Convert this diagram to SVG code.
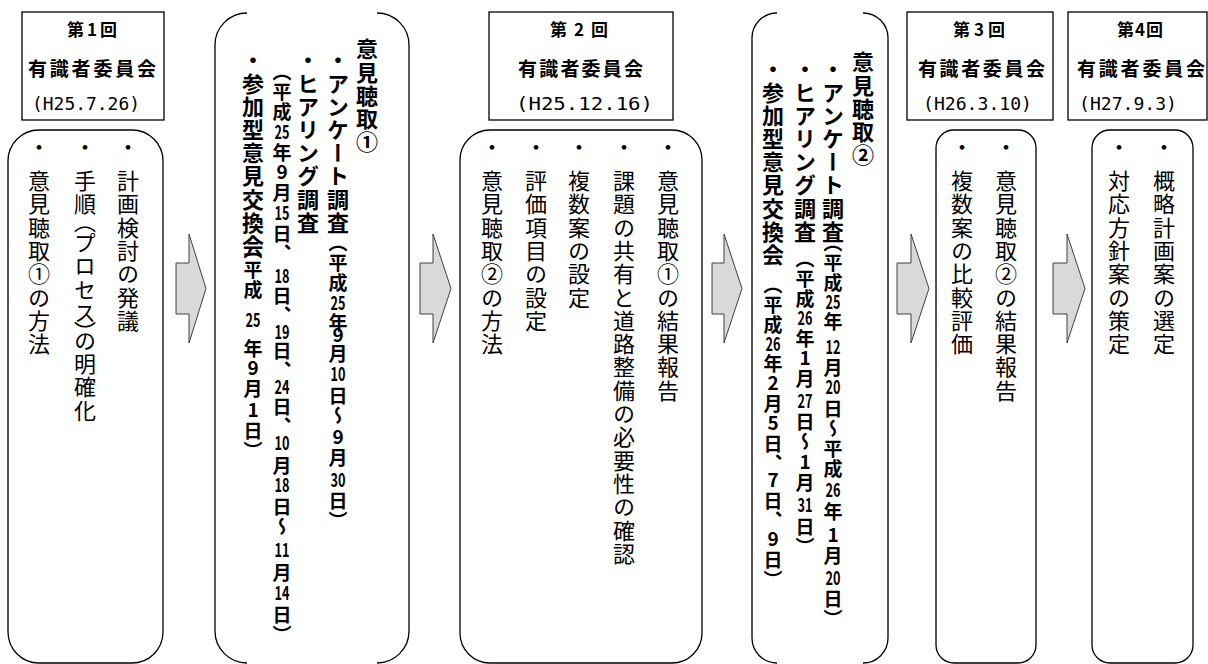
<svg xmlns="http://www.w3.org/2000/svg" width="1208" height="664" viewBox="0 0 1208 664">
<style>
.hb{fill:#fff;stroke:#000;stroke-width:1.3}
.rb{fill:#fff;stroke:#000;stroke-width:1.3}
.br{fill:none;stroke:#000;stroke-width:1.3}
.ar{fill:#d9d9d9;stroke:#404040;stroke-width:1}
.h1{font-family:"Noto Sans CJK JP",sans-serif;font-weight:700;font-size:17px}
.h2{font-family:"Noto Sans CJK JP",sans-serif;font-weight:700;font-size:19px}
.hd{font-family:"DejaVu Sans Mono",monospace;font-size:18px}
.r{font-family:"Noto Sans CJK JP",sans-serif;font-size:22px;writing-mode:vertical-rl;letter-spacing:1.3px}
.b{font-family:"Noto Sans CJK JP",sans-serif;font-weight:700;font-size:22px;writing-mode:vertical-rl;letter-spacing:1.2px}
.s{font-family:"Noto Sans CJK JP",sans-serif;font-weight:700;font-size:19px;writing-mode:vertical-rl;letter-spacing:1px}
.n{font-family:"Noto Sans CJK JP",sans-serif;font-weight:700;font-size:19px;text-anchor:middle}
</style>
<rect width="1208" height="664" fill="#fff"/>

<g id="connectors">
<polygon class="ar" points="176,263 189,263 189,234 206,288.5 189,343 189,314 176,314"/>
<polygon class="ar" points="420,263 433,263 433,234 451,288.5 433,343 433,314 420,314"/>
<polygon class="ar" points="712,263 724,263 724,234 742,288.5 724,343 724,314 712,314"/>
<polygon class="ar" points="897,263 911,263 911,234 929,288.5 911,343 911,314 897,314"/>
<polygon class="ar" points="1053,263 1067,263 1067,234 1085,288.5 1067,343 1067,314 1053,314"/>
</g>

<g id="meeting1">
<rect class="hb" x="22" y="12" width="142" height="108"/>
<text class="h1" x="67" y="36" textLength="50" lengthAdjust="spacing">第1回</text>
<text class="h2" x="28" y="76" textLength="128" lengthAdjust="spacing">有識者委員会</text>
<text class="hd" x="32" y="110" textLength="108" lengthAdjust="spacingAndGlyphs">(H25.7.26)</text>
</g>
<g id="topics1">
<rect class="rb" x="8" y="130" width="155" height="533" rx="31" ry="31"/>
<text class="r"><tspan x="128" y="136">・</tspan><tspan x="128" y="170">計画検討の発議</tspan></text>
<text class="r"><tspan x="85" y="136">・</tspan><tspan x="85" y="170">手順</tspan><tspan x="85" y="211">（</tspan><tspan x="85" y="232">プロセス</tspan><tspan x="85" y="321">）</tspan><tspan x="85" y="329">の明確化</tspan></text>
<text class="r"><tspan x="39" y="136">・</tspan><tspan x="39" y="170">意見聴取①の方法</tspan></text>
</g>

<g id="hearing1">
<path class="br" d="M247,13 A32,32 0 0 0 215,45 L215,631 A32,32 0 0 0 247,663"/>
<path class="br" d="M377,13 A32,32 0 0 1 409,45 L409,631 A32,32 0 0 1 377,663"/>
<text class="b" x="367" y="38">意見聴取①</text>
<text class="b" x="338" y="49">・アンケート調査</text>
<text class="s"><tspan x="338" y="233">（平成</tspan><tspan x="338" y="313">年</tspan><tspan x="338" y="344">月</tspan><tspan x="338" y="386">日～</tspan><tspan x="338" y="448">月</tspan><tspan x="338" y="491">日）</tspan></text>
<text class="n" x="338" y="310" textLength="15" lengthAdjust="spacingAndGlyphs">25</text>
<text class="n" x="338" y="342">9</text>
<text class="n" x="338" y="381" textLength="15" lengthAdjust="spacingAndGlyphs">10</text>
<text class="n" x="338" y="444">9</text>
<text class="n" x="338" y="487" textLength="15" lengthAdjust="spacingAndGlyphs">30</text>
<text class="b" x="308" y="49">・ヒアリング調査</text>
<text class="s"><tspan x="282" y="62">（平成</tspan><tspan x="282" y="143">年</tspan><tspan x="282" y="183">月</tspan><tspan x="282" y="224">日、</tspan><tspan x="282" y="286">日、</tspan><tspan x="282" y="341">日、</tspan><tspan x="282" y="397">日、</tspan><tspan x="282" y="456">月</tspan><tspan x="282" y="497">日～</tspan><tspan x="282" y="563">月</tspan><tspan x="282" y="605">日）</tspan></text>
<text class="n" x="282" y="139" textLength="15" lengthAdjust="spacingAndGlyphs">25</text>
<text class="n" x="282" y="179">9</text>
<text class="n" x="282" y="220" textLength="15" lengthAdjust="spacingAndGlyphs">15</text>
<text class="n" x="282" y="283" textLength="15" lengthAdjust="spacingAndGlyphs">18</text>
<text class="n" x="282" y="339" textLength="15" lengthAdjust="spacingAndGlyphs">19</text>
<text class="n" x="282" y="394" textLength="15" lengthAdjust="spacingAndGlyphs">24</text>
<text class="n" x="282" y="450" textLength="15" lengthAdjust="spacingAndGlyphs">10</text>
<text class="n" x="282" y="492" textLength="15" lengthAdjust="spacingAndGlyphs">18</text>
<text class="n" x="282" y="557" textLength="15" lengthAdjust="spacingAndGlyphs">11</text>
<text class="n" x="282" y="600" textLength="15" lengthAdjust="spacingAndGlyphs">14</text>
<text class="b" x="253" y="49">・参加型意見交換会</text>
<text class="s"><tspan x="253" y="240">（平成</tspan><tspan x="253" y="339">年</tspan><tspan x="253" y="379">月</tspan><tspan x="253" y="421">日）</tspan></text>
<text class="n" x="253" y="327" textLength="15" lengthAdjust="spacingAndGlyphs">25</text>
<text class="n" x="253" y="375">9</text>
<text class="n" x="253" y="417">1</text>
</g>

<g id="meeting2">
<rect class="hb" x="489" y="12" width="184" height="108"/>
<text class="h1" x="550" y="36" textLength="58" lengthAdjust="spacing">第2回</text>
<text class="h2" x="518" y="76" textLength="125" lengthAdjust="spacing">有識者委員会</text>
<text class="hd" x="516" y="110" textLength="137" lengthAdjust="spacingAndGlyphs">(H25.12.16)</text>
</g>
<g id="topics2">
<rect class="rb" x="460" y="130" width="242" height="533" rx="30" ry="30"/>
<text class="r"><tspan x="668" y="136">・</tspan><tspan x="668" y="170">意見聴取①の結果報告</tspan></text>
<text class="r"><tspan x="624" y="136">・</tspan><tspan x="624" y="170">課題の共有と道路整備の必要性の確認</tspan></text>
<text class="r"><tspan x="579" y="136">・</tspan><tspan x="579" y="170">複数案の設定</tspan></text>
<text class="r"><tspan x="536" y="136">・</tspan><tspan x="536" y="170">評価項目の設定</tspan></text>
<text class="r"><tspan x="492" y="136">・</tspan><tspan x="492" y="170">意見聴取②の方法</tspan></text>
</g>

<g id="hearing2">
<path class="br" d="M777,13 A25,25 0 0 0 752,38 L752,638 A25,25 0 0 0 777,663"/>
<path class="br" d="M863,13 A25,25 0 0 1 888,38 L888,638 A25,25 0 0 1 863,663"/>
<text class="b" x="863" y="51">意見聴取②</text>
<text class="b" x="833" y="58">・アンケート調査</text>
<text class="s"><tspan x="833" y="233">（平成</tspan><tspan x="833" y="312">年</tspan><tspan x="833" y="358">月</tspan><tspan x="833" y="399">日～平成</tspan><tspan x="833" y="502">年</tspan><tspan x="833" y="546">月</tspan><tspan x="833" y="589">日）</tspan></text>
<text class="n" x="833" y="309" textLength="15" lengthAdjust="spacingAndGlyphs">25</text>
<text class="n" x="833" y="354" textLength="15" lengthAdjust="spacingAndGlyphs">12</text>
<text class="n" x="833" y="394" textLength="15" lengthAdjust="spacingAndGlyphs">20</text>
<text class="n" x="833" y="497" textLength="15" lengthAdjust="spacingAndGlyphs">26</text>
<text class="n" x="833" y="542">1</text>
<text class="n" x="833" y="585" textLength="15" lengthAdjust="spacingAndGlyphs">20</text>
<text class="b" x="805" y="58">・ヒアリング調査</text>
<text class="s"><tspan x="805" y="249">（平成</tspan><tspan x="805" y="329">年</tspan><tspan x="805" y="369">月</tspan><tspan x="805" y="412">日～</tspan><tspan x="805" y="473">月</tspan><tspan x="805" y="517">日）</tspan></text>
<text class="n" x="805" y="325" textLength="15" lengthAdjust="spacingAndGlyphs">26</text>
<text class="n" x="805" y="365">1</text>
<text class="n" x="805" y="408" textLength="15" lengthAdjust="spacingAndGlyphs">27</text>
<text class="n" x="805" y="469">1</text>
<text class="n" x="805" y="512" textLength="15" lengthAdjust="spacingAndGlyphs">31</text>
<text class="b" x="773" y="58">・参加型意見交換会</text>
<text class="s"><tspan x="773" y="275">（平成</tspan><tspan x="773" y="354">年</tspan><tspan x="773" y="394">月</tspan><tspan x="773" y="434">日、</tspan><tspan x="773" y="491">日、</tspan><tspan x="773" y="550">日）</tspan></text>
<text class="n" x="773" y="351" textLength="15" lengthAdjust="spacingAndGlyphs">26</text>
<text class="n" x="773" y="390">2</text>
<text class="n" x="773" y="430">5</text>
<text class="n" x="773" y="487">7</text>
<text class="n" x="773" y="546">9</text>
</g>

<g id="meeting3">
<rect class="hb" x="907" y="12" width="146" height="108"/>
<text class="h1" x="953" y="36" textLength="52" lengthAdjust="spacing">第3回</text>
<text class="h2" x="918" y="76" textLength="127" lengthAdjust="spacing">有識者委員会</text>
<text class="hd" x="923" y="110" textLength="109" lengthAdjust="spacingAndGlyphs">(H26.3.10)</text>
</g>
<g id="topics3">
<rect class="rb" x="936" y="130" width="100" height="533" rx="18" ry="18"/>
<text class="r"><tspan x="1006" y="136">・</tspan><tspan x="1006" y="170">意見聴取②の結果報告</tspan></text>
<text class="r"><tspan x="962" y="136">・</tspan><tspan x="962" y="170">複数案の比較評価</tspan></text>
</g>

<g id="meeting4">
<rect class="hb" x="1068" y="12" width="139" height="108"/>
<text class="h1" x="1117" y="36" textLength="46" lengthAdjust="spacing">第4回</text>
<text class="h2" x="1077" y="76" textLength="128" lengthAdjust="spacing">有識者委員会</text>
<text class="hd" x="1079" y="110" textLength="98" lengthAdjust="spacingAndGlyphs">(H27.9.3)</text>
</g>
<g id="topics4">
<rect class="rb" x="1092" y="130" width="101" height="533" rx="18" ry="18"/>
<text class="r"><tspan x="1164" y="136">・</tspan><tspan x="1164" y="170">概略計画案の選定</tspan></text>
<text class="r"><tspan x="1119" y="136">・</tspan><tspan x="1119" y="170">対応方針案の策定</tspan></text>
</g>
</svg>
